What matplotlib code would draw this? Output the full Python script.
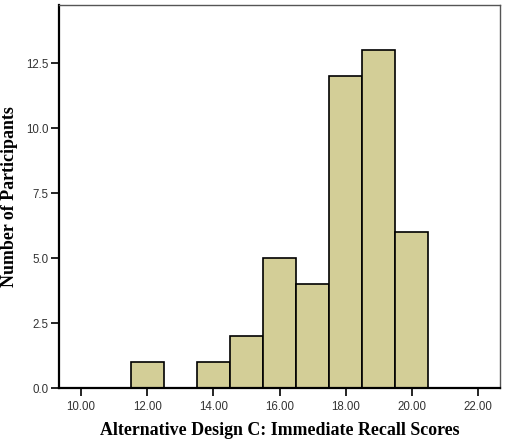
import numpy as np
import matplotlib
matplotlib.use('Agg')
import matplotlib.pyplot as plt

# histogram bins (score centres) and counts
bin_centers = [12, 14, 15, 16, 17, 18, 19, 20]
counts = [1, 1, 2, 5, 4, 12, 13, 6]
x_ticks = [10, 12, 14, 16, 18, 20, 22]
y_ticks = [0.0, 2.5, 5.0, 7.5, 10.0, 12.5]

fig = plt.figure(figsize=(5.08, 4.48), dpi=100)
ax = fig.add_axes([0.1161, 0.1339, 0.8682, 0.8549])

ax.bar(bin_centers, counts, width=1.0, color='#d3ce97', edgecolor='black', linewidth=1.2, zorder=2)

ax.set_xlim(9.33, 22.67)
ax.set_ylim(0, 14.74)
ax.set_xticks(x_ticks)
ax.set_xticklabels([f"{v:.2f}" for v in x_ticks])
ax.set_yticks(y_ticks)
ax.set_yticklabels([f"{v:.1f}" for v in y_ticks])

for lab in ax.get_xticklabels() + ax.get_yticklabels():
    lab.set_fontfamily('Liberation Sans')
    lab.set_fontsize(8.3)
    lab.set_color('#333333')
ax.tick_params(direction='out', length=5.5, width=1.2, colors='black', labelcolor='#333333')
ax.tick_params(axis='x', pad=4)
ax.tick_params(axis='y', pad=2)

ax.spines['left'].set_linewidth(1.6)
ax.spines['bottom'].set_linewidth(1.6)
ax.spines['top'].set_color('#555555')
ax.spines['right'].set_color('#555555')
ax.spines['top'].set_linewidth(1.0)
ax.spines['right'].set_linewidth(1.0)

ax.set_xlabel('Alternative Design C: Immediate Recall Scores', fontfamily='Liberation Serif',
              fontweight='bold', fontsize=12.9, labelpad=6)
ax.set_ylabel('Number of Participants', fontfamily='Liberation Serif',
              fontweight='bold', fontsize=12.9, labelpad=6)

fig.savefig('out.png', dpi=100)
